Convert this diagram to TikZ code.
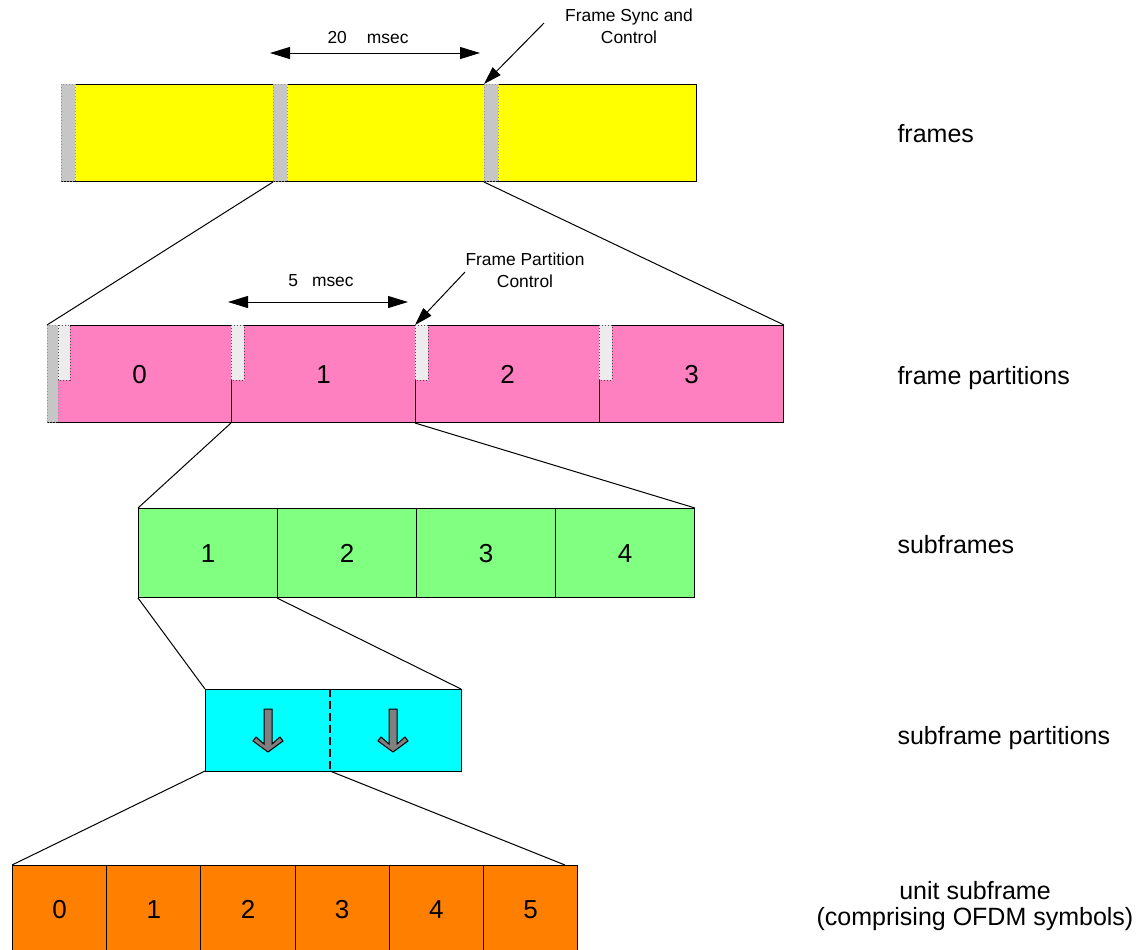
\documentclass[tikz,border=0pt]{standalone}
\usepackage{fontspec}
\setmainfont{Liberation Sans}
\usetikzlibrary{arrows.meta}
\definecolor{frameyellow}{HTML}{FFFF00}
\definecolor{partpink}{HTML}{FF80C0}
\definecolor{subgreen}{HTML}{80FF80}
\definecolor{subcyan}{HTML}{00FFFF}
\definecolor{unitorange}{HTML}{FF8000}
\tikzset{
  cell/.style={draw=black, inner sep=0pt, anchor=north west, text height=9.3pt, text depth=0pt,
    font=\fontsize{13}{15}\selectfont},
  sync/.style={fill=gray!45, draw=gray!85, densely dotted},
  ctrl/.style={fill=gray!15, draw=black!70, densely dotted},
  note/.style={inner sep=0pt, font=\fontsize{8.7}{11}\selectfont},
  lab/.style={inner sep=0pt, font=\fontsize{12.5}{13}\selectfont},
  dimarrow/.style={{Triangle[length=10pt,width=6pt]}-{Triangle[length=10pt,width=6pt]}},
  ptr/.style={-{Triangle[length=9pt,width=5.5pt]}}
}
\begin{document}
\begin{tikzpicture}[x=0.5pt, y=-0.5pt, line width=0.5pt]
\useasboundingbox (0,0) rectangle (1141,949);
% frames
\foreach \i/\x in {1/61,2/273,3/484}
  \node[cell, fill=frameyellow, minimum width=105.83pt, minimum height=48.5pt] (fr\i) at (\x,84) {};
\foreach \i in {1,2,3}
  \draw[sync] (fr\i.north west) rectangle +(14,97);
% frame partitions
\foreach \i/\x in {0/47,1/231,2/415,3/599}
  \node[cell, fill=partpink, minimum width=92pt, minimum height=48.5pt] (fp\i) at (\x,325) {\i};
\draw[sync] (fp0.north west) rectangle +(11,97);
\draw[ctrl] ([xshift=5.5pt]fp0.north west) rectangle +(12,55);
\foreach \i in {1,2,3}
  \draw[ctrl] (fp\i.north west) rectangle +(13,55);
% subframes
\foreach \i/\x in {1/138,2/277,3/416,4/555}
  \node[cell, fill=subgreen, minimum width=69.5pt, minimum height=44.5pt] (sf\i) at (\x,508) {\i};
% subframe partitions
\node[cell, draw=none, fill=subcyan, minimum width=62pt, minimum height=40.5pt] (sp1) at (205,689) {};
\node[cell, draw=none, fill=subcyan, minimum width=65.5pt, minimum height=40.5pt] (sp2) at (329,689) {};
\draw (sp1.north west) rectangle (sp2.south east);
\draw[dash pattern=on 4pt off 2pt, line width=1pt] (sp1.north east) -- (sp1.south east);
\foreach \c in {268,393}
  \draw[fill=gray] ({\c-4},709) -- ({\c+4},709) -- ({\c+4},744) -- ({\c+12},737) -- ({\c+15},741)
    -- (\c,752) -- ({\c-15},741) -- ({\c-12},737) -- ({\c-4},744) -- cycle;
% unit subframe
\foreach \i in {0,...,5}
  \node[cell, fill=unitorange, minimum width=47.1pt, minimum height=44pt] (us\i) at ({12+94.2*\i},865) {\i};
\coordinate (usend) at (565,865);
% zoom lines
\draw (fr2.south west) -- (fp0.north west);
\draw (fr3.south west) -- (fp3.north east);
\draw (fp1.south west) -- (sf1.north west);
\draw (fp2.south west) -- (sf4.north east);
\draw (sf1.south west) -- (sp1.north west);
\draw (sf2.south west) -- (sp2.north east);
\draw (sp1.south west) -- (us0.north west);
\draw (sp1.south east) -- (usend);
% durations and pointers
\coordinate (d20l) at (270,53);
\coordinate (d20r) at (480,53);
\draw[dimarrow] (d20l) -- (d20r);
\node[note, anchor=base] (t20) at (368,43) {20\hspace{10pt}msec};
\coordinate (d5l) at (228,302);
\coordinate (d5r) at (408,302);
\draw[dimarrow] (d5l) -- (d5r);
\node[note, anchor=base] (t5) at (321,286) {5\hspace{7pt}msec};
\node[note, align=center] (syncnote) at (629,26) {Frame Sync and\\Control};
\coordinate (syncfrom) at (544,23);
\draw[ptr] (syncfrom) -- (fr3.north west);
\node[note, align=center] (partnote) at (525,270) {Frame Partition\\Control};
\coordinate (partfrom) at (465,272);
\draw[ptr] (partfrom) -- (fp2.north west);
% row labels
\node[lab, anchor=base west] (lframes) at (897,142) {frames};
\node[lab, anchor=base west] (lparts) at (897,384) {frame partitions};
\node[lab, anchor=base west] (lsubs) at (897,553) {subframes};
\node[lab, anchor=base west] (lsubparts) at (897,744) {subframe partitions};
\node[lab, align=center] (lunit) at (975,906) {unit subframe\\(comprising OFDM symbols)};
\end{tikzpicture}
\end{document}
